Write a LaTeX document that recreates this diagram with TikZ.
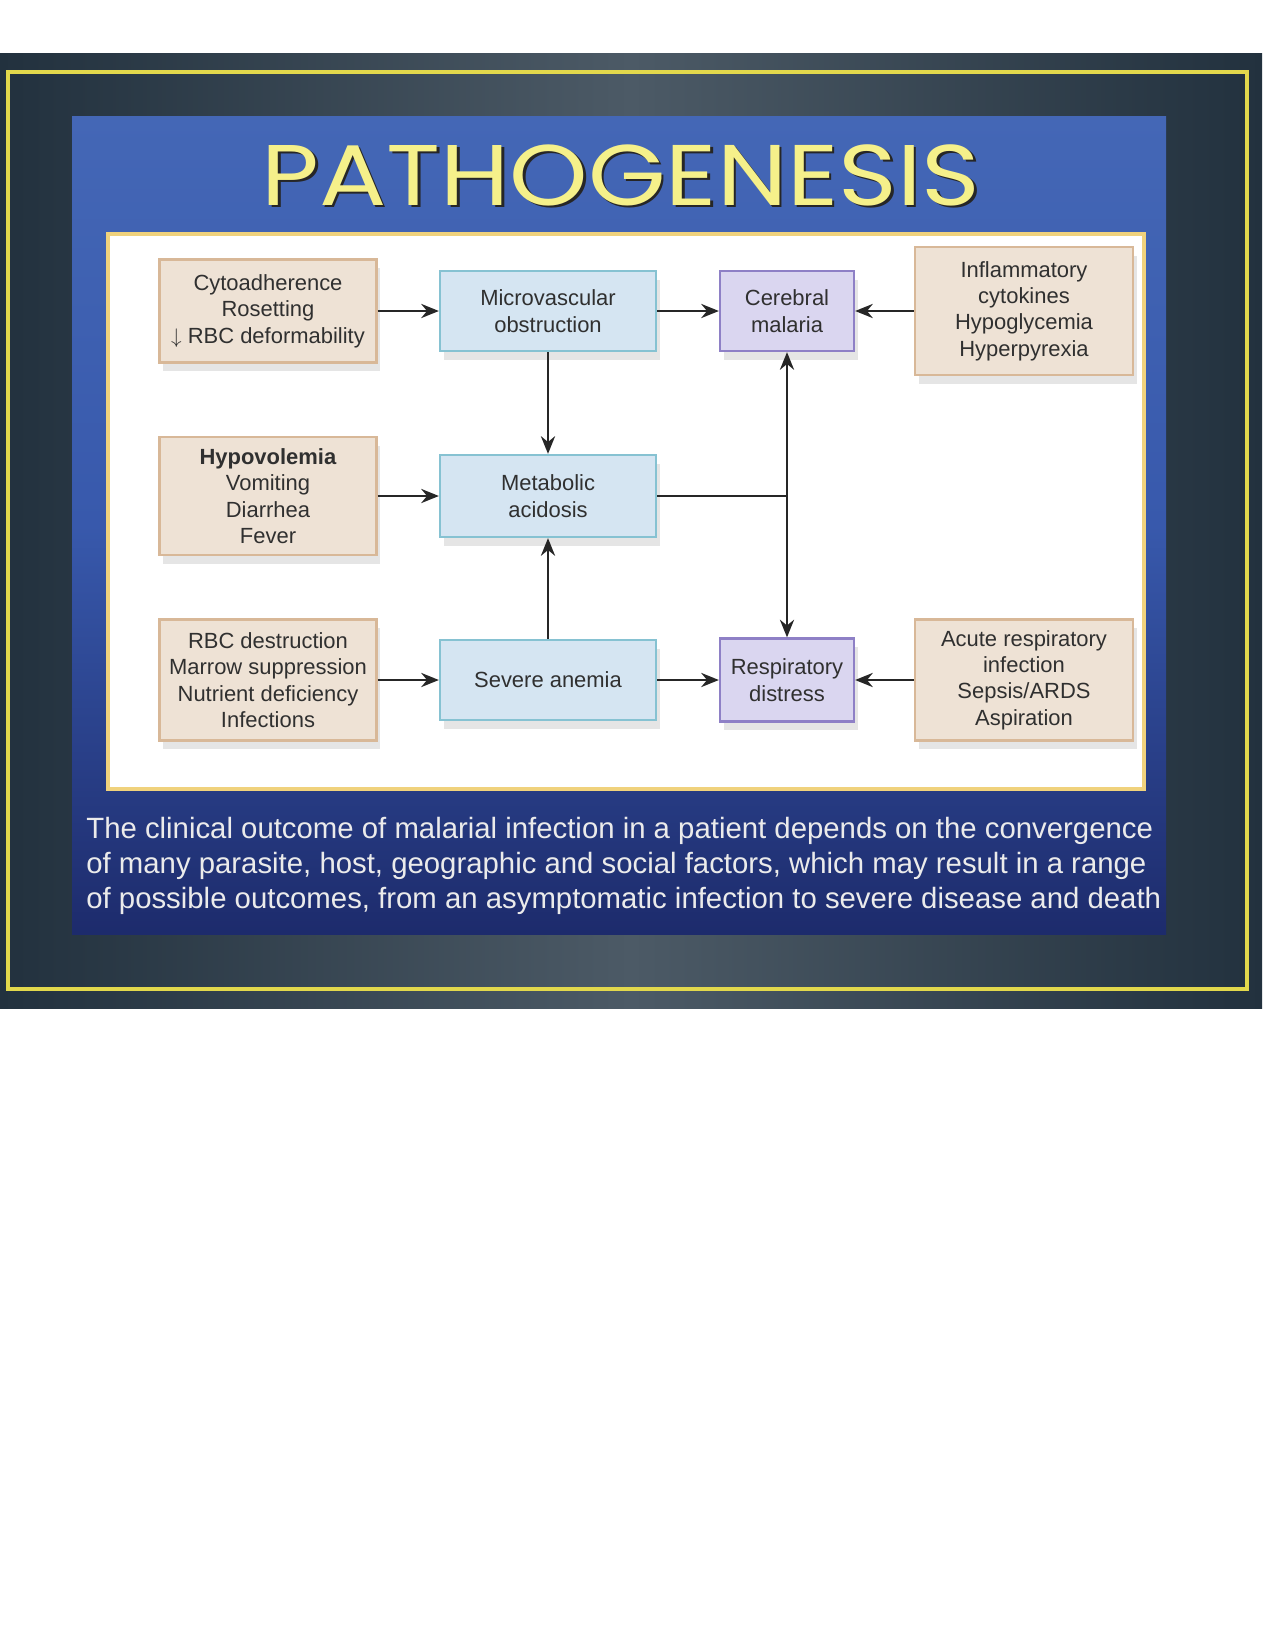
\documentclass[tikz,border=0pt]{standalone}
\usepackage{fontspec}
\setmainfont{Liberation Sans}
\newfontfamily\titlefont{Poppins}
\usetikzlibrary{shadows,arrows.meta}

\definecolor{slidedark}{HTML}{22313E}
\definecolor{slidelight}{HTML}{4C5A66}
\definecolor{frameyellow}{HTML}{E2D84C}
\definecolor{paneltop}{HTML}{4467B6}
\definecolor{panelmid}{HTML}{3859AC}
\definecolor{panelbot}{HTML}{1D2B6C}
\definecolor{panelborder}{HTML}{F0D27C}
\definecolor{tanfill}{HTML}{EEE2D5}
\definecolor{tanline}{HTML}{D8B898}
\definecolor{bluefill}{HTML}{D5E5F2}
\definecolor{blueline}{HTML}{86C2D2}
\definecolor{purplefill}{HTML}{DAD6F0}
\definecolor{purpleline}{HTML}{8E80C6}
\definecolor{titleyellow}{HTML}{F5F08A}
\definecolor{boxtext}{HTML}{303030}

\tikzset{
  box/.style={draw, line width=1.3pt, align=center, text=boxtext, inner sep=0pt,
    font=\fontsize{12.5}{15}\selectfont,
    drop shadow={shadow xshift=2pt, shadow yshift=-5pt, opacity=0.2}},
  cause/.style={box, fill=tanfill, draw=tanline, minimum width=4.34cm},
  state/.style={box, fill=bluefill, draw=blueline, minimum width=4.32cm, minimum height=1.6cm},
  outcome/.style={box, fill=purplefill, draw=purpleline, minimum width=2.68cm, minimum height=1.6cm},
  flow/.style={line width=1.6pt, black!85},
  heading/.style={font=\titlefont\fontsize{49}{56}\selectfont},
  caption/.style={align=left, inner sep=0pt, text=white!92!black, font=\fontsize{16.7}{20}\selectfont}
}

\begin{document}
\begin{tikzpicture}[x=0.02cm, y=-0.02cm, >={Stealth[length=10pt,width=8pt]}]
  \useasboundingbox[fill=white] (0,0) rectangle (1275,1650);

  % slide
  \shade[left color=slidedark, right color=slidedark, middle color=slidelight] (0,53) rectangle (1262,1008);
  \draw[frameyellow, line width=1.8pt] (8,72) rectangle (1247,989);
  \shade[top color=paneltop, bottom color=panelbot, middle color=panelmid] (72,116) rectangle (1166,934);

  % title
  \node[heading, text=black!85] (titleshade) at (623.5,177.5) {\scalebox{1.16}[1]{PATHOGENESIS}};
  \node[heading, text=titleyellow] (title) at (621,175) {\scalebox{1.16}[1]{PATHOGENESIS}};

  % diagram panel
  \draw[panelborder, line width=2.5pt, fill=white] (108,234) rectangle (1144,789);

  % first row
  \node[cause, minimum height=2.06cm] (cyto) at (268,311) {Cytoadherence\\Rosetting\\$\downarrow$ RBC deformability};
  \node[state] (micro) at (548,311) {Microvascular\\obstruction};
  \node[outcome] (cereb) at (787,311) {Cerebral\\malaria};
  \node[cause, minimum width=4.36cm, minimum height=2.56cm] (infl) at (1024,311) {Inflammatory\\cytokines\\Hypoglycemia\\Hyperpyrexia};

  % second row
  \node[cause, minimum height=2.36cm] (hypo) at (268,496) {\textbf{Hypovolemia}\\Vomiting\\Diarrhea\\Fever};
  \node[state, minimum height=1.64cm] (metab) at (548,496) {Metabolic\\acidosis};

  % third row
  \node[cause, minimum height=2.42cm] (rbc) at (268,680) {RBC destruction\\Marrow suppression\\Nutrient deficiency\\Infections};
  \node[state] (anem) at (548,680) {Severe anemia};
  \node[outcome, minimum height=1.66cm] (resp) at (787,680) {Respiratory\\distress};
  \node[cause, minimum width=4.36cm, minimum height=2.42cm] (acute) at (1024,680) {Acute respiratory\\infection\\Sepsis/ARDS\\Aspiration};

  % connectors
  \draw[flow, ->] (cyto) -- (micro);
  \draw[flow, ->] (micro) -- (cereb);
  \draw[flow, ->] (infl) -- (cereb);
  \draw[flow, ->] (hypo) -- (metab);
  \draw[flow, ->] (rbc) -- (anem);
  \draw[flow, ->] (anem) -- (resp);
  \draw[flow, ->] (acute) -- (resp);
  \draw[flow, ->] (micro) -- (metab);
  \draw[flow, ->] (anem) -- (metab);
  \coordinate (fork) at (cereb |- metab);
  \draw[flow] (metab) -- (fork);
  \draw[flow, ->] (fork) -- (cereb);
  \draw[flow, ->] (fork) -- (resp);

  % caption
  \node[caption, anchor=west] (note) at (86,866) {The clinical outcome of malarial infection in a patient depends on the convergence\\of many parasite, host, geographic and social factors, which may result in a range\\of possible outcomes, from an asymptomatic infection to severe disease and death};
\end{tikzpicture}
\end{document}
